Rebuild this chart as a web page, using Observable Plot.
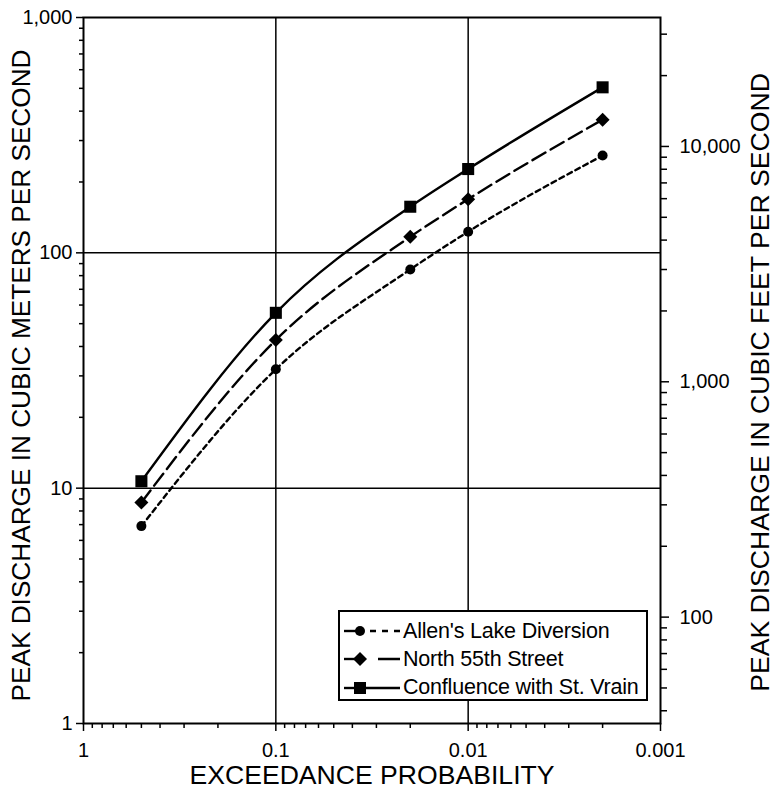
<!DOCTYPE html>
<html>
<head>
<meta charset="utf-8">
<script src="https://cdn.jsdelivr.net/npm/d3@7"></script>
<script src="https://cdn.jsdelivr.net/npm/@observablehq/plot@0.6"></script>
<style>
  html, body { margin: 0; padding: 0; background: white; }
  #wrap { position: relative; width: 776px; height: 789px; font-family: "Liberation Sans", Arial, sans-serif; }
  #legend { position: absolute; left: 338px; top: 610px; width: 306px; height: 87px; border: 2px solid black; background: white; box-sizing: content-box; }
  #legend .row { position: absolute; left: 0; height: 28px; display: flex; align-items: center; }
  #legend .row span { font-size: 21.5px; margin-left: 3px; color: black; white-space: nowrap; letter-spacing: -0.2px; }
</style>
</head>
<body>
<div id="wrap"></div>
<script>
// ---- data ----
const probs = [0.5, 0.1, 0.02, 0.01, 0.002];
const allensLake = [6.9, 32, 85, 123, 259];
const north55th = [8.7, 42.6, 117, 169, 368];
const confluence = [10.7, 55.6, 157, 227, 505];
const seriesNames = ["Allen's Lake Diversion", "North 55th Street", "Confluence with St. Vrain"];
const seriesValues = [allensLake, north55th, confluence];
const seriesSymbols = ["circle", "diamond2", "square"];
const seriesRadius = [5, 6.3, 6.8];
const seriesDash = ["5,4", "15,6", null];

const xMajor = [1, 0.1, 0.01, 0.001];
const xMajorLabels = ["1", "0.1", "0.01", "0.001"];
const xMinor = [0.9,0.8,0.7,0.6,0.5,0.4,0.3,0.2, 0.09,0.08,0.07,0.06,0.05,0.04,0.03,0.02, 0.009,0.008,0.007,0.006,0.005,0.004,0.003,0.002];
const yMajor = [1, 10, 100, 1000];
const yMinor = [2,3,4,5,6,7,8,9,20,30,40,50,60,70,80,90,200,300,400,500,600,700,800,900];
const cfsPerCms = 35.3147;
const cfsMajor = [100, 1000, 10000];
const cfsMinor = [40,50,60,70,80,90,200,300,400,500,600,700,800,900,2000,3000,4000,5000,6000,7000,8000,9000,20000,30000];
const xTitle = "EXCEEDANCE PROBABILITY";
const yTitle = "PEAK DISCHARGE IN CUBIC METERS PER SECOND";
const y2Title = "PEAK DISCHARGE IN CUBIC FEET PER SECOND";

const rows = seriesNames.flatMap((name, i) => probs.map((p, j) => ({series: name, idx: i, p, q: seriesValues[i][j]})));

const marks = [
  Plot.ruleX([0.1, 0.01], {stroke: "black", strokeWidth: 1.5}),
  Plot.ruleY([10, 100], {stroke: "black", strokeWidth: 1.5}),
  Plot.frame({stroke: "black", strokeWidth: 2}),
  // left axis
  Plot.axisY(yMajor, {anchor: "left", tickSize: 7, tickPadding: 4, tickFormat: d3.format(","), fontSize: 20, label: null, strokeWidth: 1.5}),
  Plot.axisY(yMinor, {anchor: "left", tickSize: 4, tickFormat: () => "", label: null, strokeWidth: 1.5}),
  // right axis (cfs)
  Plot.axisY(cfsMajor.map(c => c / cfsPerCms), {anchor: "right", tickSize: 8, tickPadding: 11, tickFormat: (d) => d3.format(",")(Math.round(d * cfsPerCms)), fontSize: 20, label: null, strokeWidth: 1.5}),
  Plot.axisY(cfsMinor.map(c => c / cfsPerCms), {anchor: "right", tickSize: 6, tickFormat: () => "", label: null, strokeWidth: 1.5}),
  // x axis
  Plot.axisX(xMajor, {anchor: "bottom", tickSize: 8, tickPadding: 11, tickFormat: (d) => xMajorLabels[xMajor.indexOf(d)], fontSize: 20, label: null, strokeWidth: 1.5}),
  Plot.axisX(xMinor, {anchor: "bottom", tickSize: 5, tickFormat: () => "", label: null, strokeWidth: 1.5}),
  // titles
  Plot.text([yTitle], {frameAnchor: "left", rotate: -90, dx: -62, dy: 5, fontSize: 26.2, textAnchor: "middle", lineAnchor: "middle", text: d => d, fill: "black"}),
  Plot.text([y2Title], {frameAnchor: "right", rotate: -90, dx: 100, dy: 12, fontSize: 26.6, textAnchor: "middle", lineAnchor: "middle", text: d => d, fill: "black"}),
  Plot.text([xTitle], {frameAnchor: "bottom", dy: 52, fontSize: 26.6, textAnchor: "middle", lineAnchor: "middle", text: d => d, fill: "black"}),
];

seriesNames.forEach((name, i) => {
  const data = rows.filter(r => r.idx === i);
  marks.push(Plot.line(data, {x: "p", y: "q", stroke: "black", strokeWidth: 2.4, strokeDasharray: seriesDash[i], curve: "monotone-x"}));
  marks.push(Plot.dot(data, {x: "p", y: "q", symbol: () => seriesSymbols[i], r: seriesRadius[i], fill: "black", stroke: "none"}));
});

const chart = Plot.plot({
  width: 776,
  height: 789,
  marginLeft: 83,
  marginRight: 116,
  marginTop: 17,
  marginBottom: 66,
  style: {fontFamily: "'Liberation Sans', Arial, sans-serif", fontSize: "18px", color: "black", background: "white", overflow: "visible"},
  x: {type: "log", domain: [1, 0.001]},
  y: {type: "log", domain: [1, 1000]},
  symbol: {type: "identity"},
  marks
});
const wrap = document.getElementById("wrap");
wrap.appendChild(chart);

// legend overlay
const legend = document.createElement("div");
legend.id = "legend";
seriesNames.forEach((name, i) => {
  const row = document.createElement("div");
  row.className = "row";
  row.style.top = (5 + i * 28.3) + "px";
  const svg = d3.create("svg").attr("width", 60).attr("height", 20);
  svg.append("line").attr("x1", 4).attr("x2", 20).attr("y1", 10).attr("y2", 10).attr("stroke", "black").attr("stroke-width", 2.4);
  svg.append("line").attr("x1", 20).attr("x2", 60).attr("y1", 10).attr("y2", 10).attr("stroke", "black").attr("stroke-width", 2.4)
     .attr("stroke-dasharray", i === 0 ? "4,0,0,6,6,6,6,6,6,6" : (i === 1 ? "0,18,22,100" : null));
  const sym = [d3.symbolCircle, d3.symbolDiamond2, d3.symbolSquare][i];
  svg.append("path").attr("transform", "translate(20,10)").attr("d", d3.symbol(sym, Math.PI * seriesRadius[i] * seriesRadius[i])()).attr("fill", "black");
  row.appendChild(svg.node());
  const label = document.createElement("span");
  label.textContent = name;
  row.appendChild(label);
  legend.appendChild(row);
});
wrap.appendChild(legend);
</script>
</body>
</html>
